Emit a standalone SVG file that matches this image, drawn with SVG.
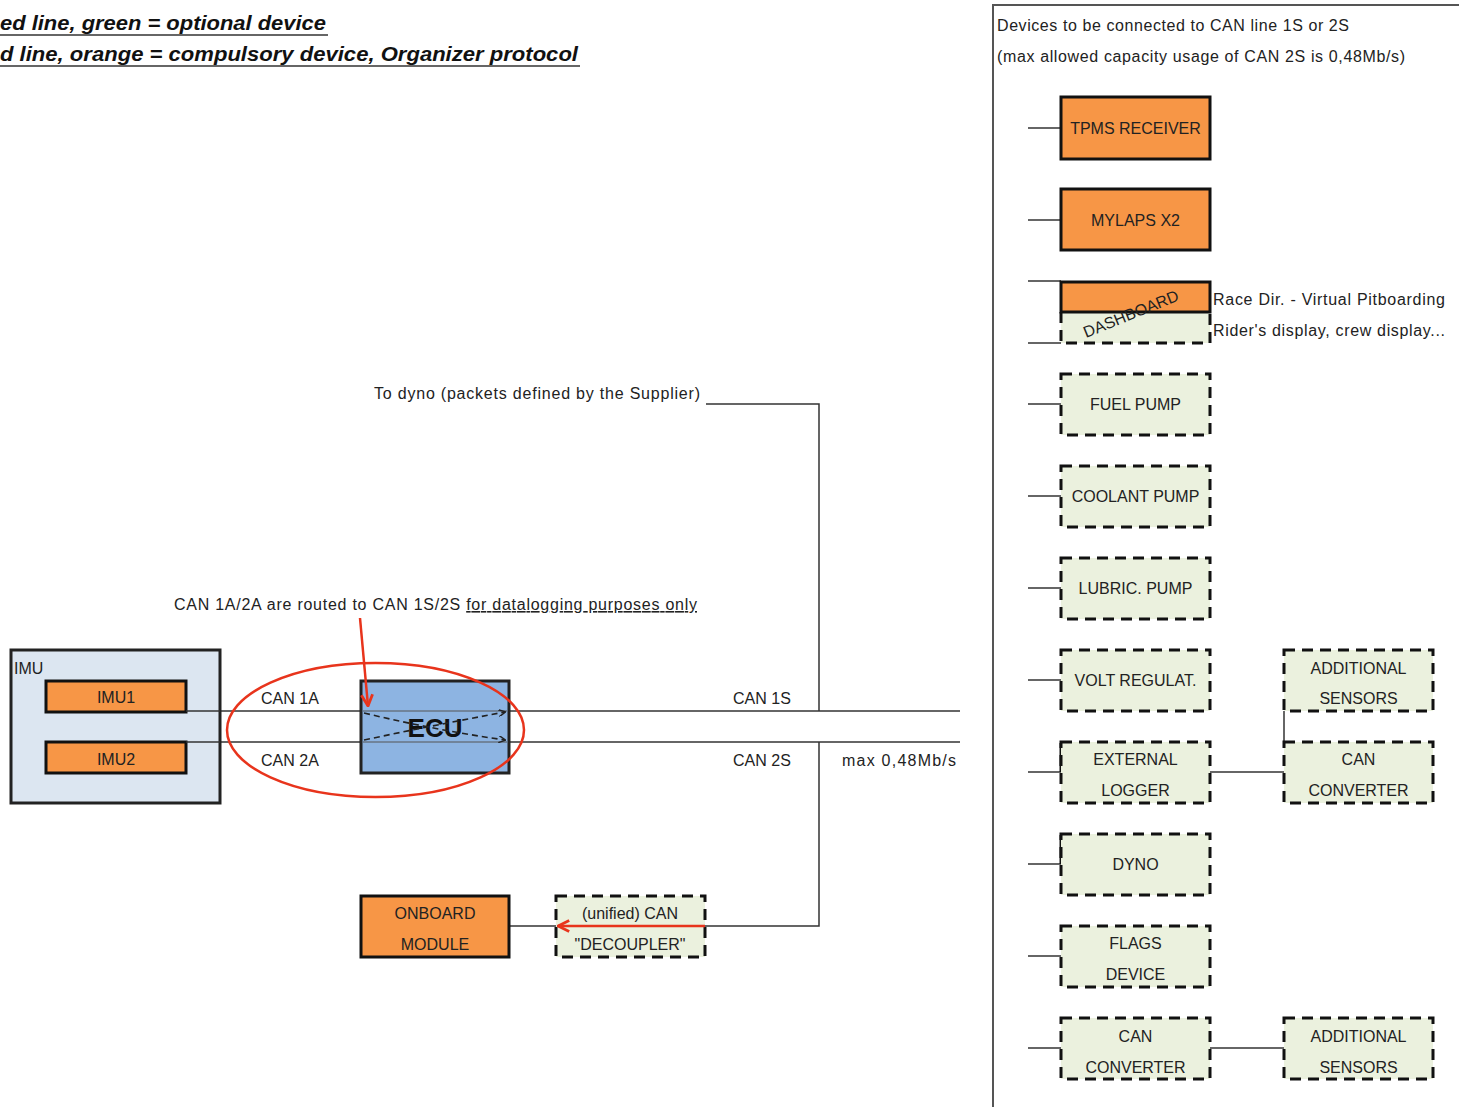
<svg xmlns="http://www.w3.org/2000/svg" width="1459" height="1107" viewBox="0 0 1459 1107">
<defs>
<style>
text{font-family:"Liberation Sans",Arial,sans-serif;font-size:16px;fill:#222}
.hdr{font-size:20px;font-weight:bold;font-style:italic;fill:#111}
.c{text-anchor:middle}
.org{fill:#f79646;stroke:#111;stroke-width:3}
.opt{fill:#ebf1de;stroke:#111;stroke-width:3;stroke-dasharray:11 7}
.ln{stroke:#333;stroke-width:1.5;fill:none}
.red{stroke:#e8341c;stroke-width:2.5;fill:none}
</style>
<marker id="ar" viewBox="0 0 10 10" refX="9" refY="5" markerWidth="7" markerHeight="7" orient="auto" markerUnits="userSpaceOnUse">
<path d="M0,0 L10,5 L0,10" fill="none" stroke="#222" stroke-width="2"/>
</marker>
<marker id="rar" viewBox="0 0 10 10" refX="9" refY="5" markerWidth="14" markerHeight="14" orient="auto" markerUnits="userSpaceOnUse">
<path d="M1,1 L9,5 L1,9" fill="none" stroke="#e8341c" stroke-width="2"/>
</marker>
</defs>
<rect width="1459" height="1107" fill="#fff"/>

<g id="legend">
<text class="hdr" x="0" y="30" textLength="326" lengthAdjust="spacingAndGlyphs">ed line, green = optional device</text>
<line x1="0" y1="35" x2="328" y2="35" stroke="#333" stroke-width="1.5"/>
<text class="hdr" x="0" y="61" textLength="578" lengthAdjust="spacingAndGlyphs">d line, orange = compulsory device, Organizer protocol</text>
<line x1="0" y1="66" x2="580" y2="66" stroke="#333" stroke-width="1.5"/>
</g>

<g id="panel">
<path d="M1459,5 H993 V1107" fill="none" stroke="#555" stroke-width="2"/>
<text x="997" y="31" textLength="352">Devices to be connected to CAN line 1S or 2S</text>
<text x="997" y="62" textLength="408">(max allowed capacity usage of CAN 2S is 0,48Mb/s)</text>
</g>

<g id="connectors">
<line class="ln" x1="186" y1="711" x2="960" y2="711"/>
<line class="ln" x1="186" y1="742" x2="960" y2="742"/>
<path class="ln" d="M706,404 H819 V711"/>
<path class="ln" d="M819,742 V926 H705"/>
<line class="ln" x1="509" y1="926" x2="556" y2="926"/>
<line class="ln" x1="1028" y1="128" x2="1061" y2="128"/>
<line class="ln" x1="1028" y1="220" x2="1061" y2="220"/>
<line class="ln" x1="1028" y1="281" x2="1061" y2="281"/>
<line class="ln" x1="1028" y1="343" x2="1061" y2="343"/>
<line class="ln" x1="1028" y1="404" x2="1061" y2="404"/>
<line class="ln" x1="1028" y1="496" x2="1061" y2="496"/>
<line class="ln" x1="1028" y1="588" x2="1061" y2="588"/>
<line class="ln" x1="1028" y1="680" x2="1061" y2="680"/>
<path class="ln" d="M1028,772 H1061"/>
<line x1="1061" y1="772" x2="1061" y2="743" stroke="#111" stroke-width="3"/>
<path class="ln" d="M1210,772 H1284"/>
<line class="ln" x1="1284" y1="711" x2="1284" y2="745"/>
<path class="ln" d="M1028,864 H1061"/>
<line x1="1061" y1="864" x2="1061" y2="835" stroke="#111" stroke-width="3"/>
<line class="ln" x1="1028" y1="956" x2="1061" y2="956"/>
<line class="ln" x1="1028" y1="1048" x2="1061" y2="1048"/>
<line class="ln" x1="1210" y1="1048" x2="1284" y2="1048"/>
</g>

<g id="imu">
<rect x="11" y="650" width="209" height="153" fill="#dce6f1" stroke="#222" stroke-width="3"/>
<text x="14" y="674">IMU</text>
</g>
<g id="imu1">
<rect class="org" x="46" y="681" width="140" height="31"/>
<text class="c" x="116" y="703">IMU1</text>
</g>
<g id="imu2">
<rect class="org" x="46" y="742" width="140" height="31"/>
<text class="c" x="116" y="765">IMU2</text>
</g>
<line class="ln" x1="186" y1="711" x2="220" y2="711"/>
<line class="ln" x1="186" y1="742" x2="220" y2="742"/>

<g id="ecu">
<rect x="361" y="681" width="148" height="92" fill="#8db4e2" stroke="#222" stroke-width="3"/>
<line x1="363" y1="711" x2="507" y2="711" stroke="#555" stroke-width="1"/>
<line x1="363" y1="742" x2="507" y2="742" stroke="#555" stroke-width="1"/>
<text class="c" x="435" y="737" style="font-size:26px;font-weight:bold;fill:#111">ECU</text>
<path d="M364,713 Q435,730 505,740" fill="none" stroke="#222" stroke-width="1.6" stroke-dasharray="6 4" marker-end="url(#ar)"/>
<path d="M364,740 Q435,725 505,712" fill="none" stroke="#222" stroke-width="1.6" stroke-dasharray="6 4" marker-end="url(#ar)"/>
</g>

<g id="labels">
<text x="261" y="704">CAN 1A</text>
<text x="261" y="766">CAN 2A</text>
<text x="733" y="704">CAN 1S</text>
<text x="733" y="766">CAN 2S</text>
<text x="842" y="766" textLength="114">max 0,48Mb/s</text>
<text x="374" y="399" textLength="326">To dyno (packets defined by the Supplier)</text>
<text x="174" y="610" textLength="523">CAN 1A/2A are routed to CAN 1S/2S <tspan text-decoration="underline">for datalogging purposes only</tspan></text>
</g>

<g id="highlight">
<ellipse class="red" cx="375.5" cy="730" rx="148.5" ry="67"/>
<line class="red" x1="360" y1="618" x2="368" y2="706" marker-end="url(#rar)"/>
</g>

<g id="onboard">
<rect class="org" x="361" y="896" width="148" height="61"/>
<text class="c" x="435" y="919">ONBOARD</text>
<text class="c" x="435" y="950">MODULE</text>
</g>
<g id="decoupler">
<rect class="opt" x="556" y="896" width="149" height="61"/>
<text class="c" x="630" y="919">(unified) CAN</text>
<text class="c" x="630" y="950">"DECOUPLER"</text>
<line class="red" x1="705" y1="926" x2="558" y2="926" marker-end="url(#rar)"/>
</g>

<g id="tpms">
<rect class="org" x="1061" y="97" width="149" height="62"/>
<text class="c" x="1135.5" y="134">TPMS RECEIVER</text>
</g>
<g id="mylaps">
<rect class="org" x="1061" y="189" width="149" height="61"/>
<text class="c" x="1135.5" y="226">MYLAPS X2</text>
</g>
<g id="dashboard">
<rect x="1061" y="312" width="149" height="31" fill="#ebf1de"/>
<path d="M1061,312 V343 H1210 V312" fill="none" stroke="#111" stroke-width="3" stroke-dasharray="11 7"/>
<rect class="org" x="1061" y="282" width="149" height="30"/>
<text class="c" transform="translate(1133,319) rotate(-22)">DASHBOARD</text>
<text x="1213" y="305" textLength="232">Race Dir. - Virtual Pitboarding</text>
<text x="1213" y="336" textLength="232">Rider's display, crew display...</text>
</g>
<g id="fuel">
<rect class="opt" x="1061" y="374" width="149" height="61"/>
<text class="c" x="1135.5" y="410">FUEL PUMP</text>
</g>
<g id="coolant">
<rect class="opt" x="1061" y="466" width="149" height="61"/>
<text class="c" x="1135.5" y="502">COOLANT PUMP</text>
</g>
<g id="lubric">
<rect class="opt" x="1061" y="558" width="149" height="61"/>
<text class="c" x="1135.5" y="594">LUBRIC. PUMP</text>
</g>
<g id="volt">
<rect class="opt" x="1061" y="650" width="149" height="61"/>
<text class="c" x="1135.5" y="686">VOLT REGULAT.</text>
</g>
<g id="addsens1">
<rect class="opt" x="1284" y="650" width="149" height="61"/>
<text class="c" x="1358.5" y="674">ADDITIONAL</text>
<text class="c" x="1358.5" y="704">SENSORS</text>
</g>
<g id="extlogger">
<rect class="opt" x="1061" y="742" width="149" height="61"/>
<text class="c" x="1135.5" y="765">EXTERNAL</text>
<text class="c" x="1135.5" y="796">LOGGER</text>
</g>
<g id="canconv1">
<rect class="opt" x="1284" y="742" width="149" height="61"/>
<text class="c" x="1358.5" y="765">CAN</text>
<text class="c" x="1358.5" y="796">CONVERTER</text>
</g>
<g id="dyno">
<rect class="opt" x="1061" y="834" width="149" height="61"/>
<text class="c" x="1135.5" y="870">DYNO</text>
</g>
<g id="flags">
<rect class="opt" x="1061" y="926" width="149" height="61"/>
<text class="c" x="1135.5" y="949">FLAGS</text>
<text class="c" x="1135.5" y="980">DEVICE</text>
</g>
<g id="canconv2">
<rect class="opt" x="1061" y="1018" width="149" height="61"/>
<text class="c" x="1135.5" y="1042">CAN</text>
<text class="c" x="1135.5" y="1073">CONVERTER</text>
</g>
<g id="addsens2">
<rect class="opt" x="1284" y="1018" width="149" height="61"/>
<text class="c" x="1358.5" y="1042">ADDITIONAL</text>
<text class="c" x="1358.5" y="1073">SENSORS</text>
</g>
</svg>
